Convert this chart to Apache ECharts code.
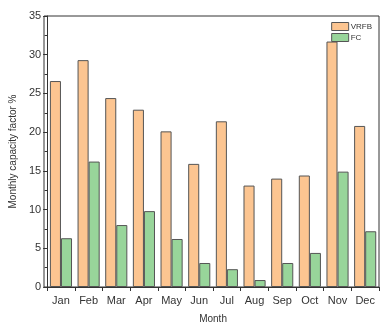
<!DOCTYPE html>
<html>
<head>
<meta charset="utf-8">
<script src="https://cdn.jsdelivr.net/npm/echarts@6/dist/echarts.min.js"></script>
<style>
html, body { margin: 0; padding: 0; background: #fff; }
#chart { width: 390px; height: 333px; }
</style>
</head>
<body>
<div id="chart"></div>
<script>
const months = ['Jan', 'Feb', 'Mar', 'Apr', 'May', 'Jun', 'Jul', 'Aug', 'Sep', 'Oct', 'Nov', 'Dec']
const vrfb = [26.6, 29.3, 24.4, 22.9, 20.1, 15.9, 21.4, 13.1, 14.0, 14.4, 31.7, 20.8]
const fc = [6.3, 16.2, 8.0, 9.8, 6.2, 3.1, 2.3, 0.9, 3.1, 4.4, 14.9, 7.2]

const chart = echarts.init(document.getElementById('chart'))
const textStyle = { fontFamily: 'Liberation Sans', color: '#333', fontSize: 11 }
const nameStyle = { fontFamily: 'Liberation Sans', color: '#333', fontSize: 10 }

chart.setOption({
  animation: false,
  backgroundColor: '#fff',
  grid: { left: 44, right: 11, top: 16, bottom: 46 },
  legend: {
    right: 13, top: 17, orient: 'vertical',
    icon: 'rect',
    itemWidth: 17, itemHeight: 8, itemGap: 2,
    itemStyle: { borderColor: '#555', borderWidth: 1 },
    textStyle: { fontFamily: 'Liberation Sans', fontSize: 8, color: '#333', padding: [0, 0, 0, -3] },
    data: ['VRFB', 'FC']
  },
  xAxis: {
    type: 'category',
    data: months,
    name: 'Month',
    nameLocation: 'middle',
    nameGap: 27,
    nameTextStyle: nameStyle,
    axisLine: { lineStyle: { color: '#333', width: 1 } },
    axisTick: { show: true, alignWithLabel: false, length: 4, lineStyle: { color: '#333' } },
    axisLabel: Object.assign({ margin: 8 }, textStyle)
  },
  yAxis: {
    type: 'value',
    min: 0, max: 35, interval: 5,
    name: 'Monthly capacity factor %',
    nameLocation: 'middle',
    nameGap: 27,
    nameTextStyle: nameStyle,
    axisLine: { show: true, lineStyle: { color: '#333', width: 1 } },
    axisTick: { show: true, length: 4, lineStyle: { color: '#333' } },
    minorTick: { show: true, splitNumber: 2, length: 2.5, lineStyle: { color: '#333' } },
    splitLine: { show: false },
    axisLabel: Object.assign({ margin: 6 }, textStyle)
  },
  graphic: [{
    type: 'rect',
    shape: { x: 44, y: 16, width: 335, height: 271 },
    style: { fill: 'none', stroke: '#333', lineWidth: 1 },
    silent: true
  }],
  series: [
    {
      name: 'VRFB', type: 'bar', data: vrfb,
      barGap: '0%', barCategoryGap: '20%',
      itemStyle: { color: '#FCC591', borderColor: '#555', borderWidth: 1 }
    },
    {
      name: 'FC', type: 'bar', data: fc,
      itemStyle: { color: '#98D59A', borderColor: '#555', borderWidth: 1 }
    }
  ]
})
</script>
</body>
</html>
